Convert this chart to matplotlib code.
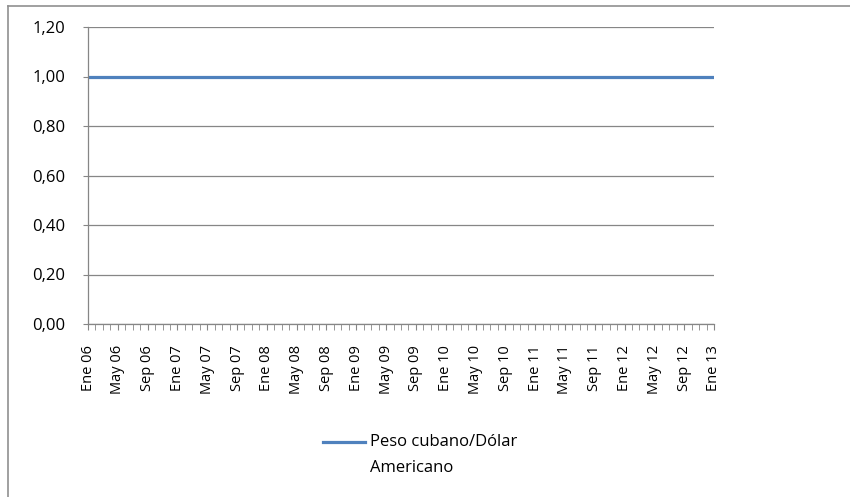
import matplotlib.pyplot as plt
from matplotlib.lines import Line2D

# meses de Ene 06 a Ene 13
meses = ['Ene', 'Feb', 'Mar', 'Abr', 'May', 'Jun', 'Jul', 'Ago', 'Sep', 'Oct', 'Nov', 'Dic']
anios = ['06', '07', '08', '09', '10', '11', '12', '13']
categorias = [m + ' ' + a for a in anios for m in meses][:85]

# tasa peso cubano / dolar americano
tasa = [1.00, 1.00, 1.00, 1.00, 1.00, 1.00, 1.00, 1.00, 1.00, 1.00, 1.00, 1.00,
        1.00, 1.00, 1.00, 1.00, 1.00, 1.00, 1.00, 1.00, 1.00, 1.00, 1.00, 1.00,
        1.00, 1.00, 1.00, 1.00, 1.00, 1.00, 1.00, 1.00, 1.00, 1.00, 1.00, 1.00,
        1.00, 1.00, 1.00, 1.00, 1.00, 1.00, 1.00, 1.00, 1.00, 1.00, 1.00, 1.00,
        1.00, 1.00, 1.00, 1.00, 1.00, 1.00, 1.00, 1.00, 1.00, 1.00, 1.00, 1.00,
        1.00, 1.00, 1.00, 1.00, 1.00, 1.00, 1.00, 1.00, 1.00, 1.00, 1.00, 1.00,
        1.00, 1.00, 1.00, 1.00, 1.00, 1.00, 1.00, 1.00, 1.00, 1.00, 1.00, 1.00,
        1.00]
yticks = [0.0, 0.2, 0.4, 0.6, 0.8, 1.0, 1.2]

plt.rcParams['font.family'] = ['Open Sans', 'DejaVu Sans']
W, H = 850, 497
fig = plt.figure(figsize=(W / 100, H / 100), dpi=100)
ax = fig.add_axes([88 / W, 1 - 324 / H, (714 - 88) / W, (324 - 27) / H])

x = list(range(len(tasa)))
ax.plot(x, tasa, color='#4F81BD', lw=2.3, solid_capstyle='butt')

ax.set_xlim(0, len(tasa) - 1)
ax.set_ylim(0, 1.2)
ax.set_yticks(yticks)
ax.set_yticklabels([('%.2f' % v).replace('.', ',') for v in yticks], fontsize=12)
ax.yaxis.grid(True, color='#868686', lw=0.9)
ax.set_axisbelow(True)

ax.set_xticks(x[::4])
ax.set_xticklabels(categorias[::4], rotation=90, fontsize=10.5)
ax.set_xticks(x, minor=True)
ax.tick_params(axis='x', which='both', length=4, color='#868686', direction='out', pad=11)
ax.tick_params(axis='y', length=3.5, color='#868686', pad=13)

for s in ['top', 'right']:
    ax.spines[s].set_visible(False)
for s in ['left', 'bottom']:
    ax.spines[s].set_color('#868686')
    ax.spines[s].set_linewidth(0.9)

# leyenda
fig.add_artist(Line2D([323 / W, 365 / W], [1 - 442 / H, 1 - 442 / H], color='#4F81BD', lw=2.3))
fig.text(370 / W, 1 - 442 / H, 'Peso cubano/Dólar', fontsize=12, va='center', ha='left')
fig.text(370 / W, 1 - 468 / H, 'Americano', fontsize=12, va='center', ha='left')

# borde del grafico
fig.add_artist(Line2D([8 / W, 8 / W], [0, 1 - 6 / H], color='#909090', lw=1.2))
fig.add_artist(Line2D([8 / W, 1], [1 - 6 / H, 1 - 6 / H], color='#909090', lw=1.2))

fig.savefig('out.png', dpi=100)
